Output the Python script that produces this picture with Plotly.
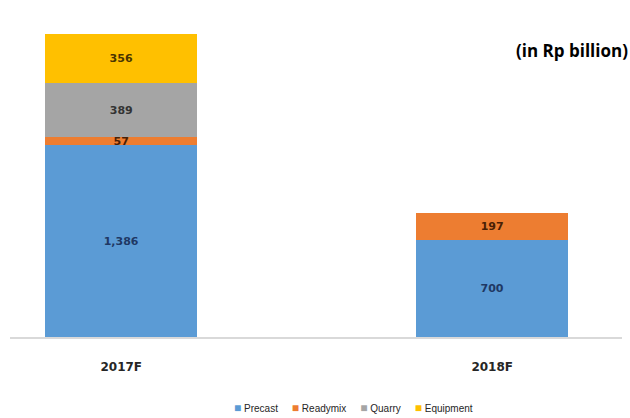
import plotly.graph_objects as go

categories = ["2017F", "2018F"]
precast = [1386, 700]
readymix = [57, 197]
quarry = [389, None]
equipment = [356, None]
series_names = ["Precast", "Readymix", "Quarry", "Equipment"]
colors = ["#5B9BD5", "#ED7D31", "#A5A5A5", "#FFC000"]
text_colors = ["#1F3864", "#4A1F05", "#333333", "#4A3500"]

def fmt(v):
    return "" if v is None else f"<b>{v:,}</b>"

fig = go.Figure()
for name, vals, col, tc in zip(series_names, [precast, readymix, quarry, equipment], colors, text_colors):
    fig.add_trace(go.Bar(
        x=categories, y=vals, name=name,
        marker=dict(color=col, line=dict(width=0)),
        width=0.41,
        text=[fmt(v) for v in vals],
        textposition="inside", insidetextanchor="middle",
        textfont=dict(family="DejaVu Sans", size=11, color=tc),
        constraintext="none",
        hoverinfo="skip",
        showlegend=False,
    ))

legend_text = "&nbsp;&nbsp;&nbsp;&nbsp;&nbsp;".join(
    f"<span style='color:{c};font-size:12px'>■</span> {n}" for n, c in zip(series_names, colors)
)

fig.update_layout(
    barmode="stack",
    width=630, height=418,
    margin=dict(l=10, r=8, t=20, b=81),
    plot_bgcolor="white", paper_bgcolor="white",
    showlegend=False,
    xaxis=dict(range=[-0.3, 1.35], showline=True, linecolor="#D9D9D9", linewidth=2,
               ticks="", ticklabelstandoff=18,
               tickfont=dict(family="DejaVu Sans", size=12, color="#262626", weight="bold")),
    yaxis=dict(range=[0, 2289], visible=False, showgrid=False),
    font=dict(family="Liberation Sans, Arial"),
    annotations=[
        dict(text="<b>(in Rp billion)</b>", xref="paper", yref="paper",
             x=1.0, y=0.905, xanchor="right", yanchor="middle", showarrow=False, xshift=8,
             font=dict(family="Open Sans, Liberation Sans", size=17, color="#000000")),
        dict(text=legend_text, xref="paper", yref="paper",
             x=0.562, y=-0.224, xanchor="center", yanchor="middle", showarrow=False,
             font=dict(family="Liberation Sans, Arial", size=10, color="#262626")),
    ],
)

fig.write_html("out.html")
